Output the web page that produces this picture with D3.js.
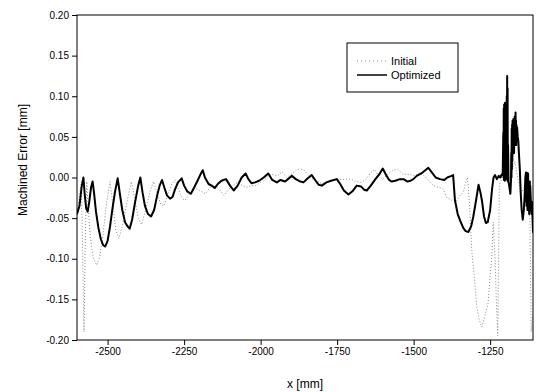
<!DOCTYPE html>
<html>
<head>
<meta charset="utf-8">
<script src="https://cdn.jsdelivr.net/npm/d3@7"></script>
<style>
  body { margin: 0; background: #fff; }
  svg { display: block; font-family: "Liberation Sans", Arial, sans-serif; }
</style>
</head>
<body>
<div id="chart"></div>
<script>
// Series: [x (mm), machined error (mm)]
const initialData = [
  [-2600, -0.05], [-2593, -0.025], [-2586, -0.005], [-2581, -0.11], [-2577, -0.19],
  [-2573, -0.075], [-2568, -0.005], [-2563, -0.04], [-2556, -0.075], [-2547, -0.098],
  [-2536, -0.108], [-2526, -0.098], [-2515, -0.07], [-2503, -0.03], [-2492, -0.005],
  [-2484, -0.03], [-2473, -0.065], [-2463, -0.075], [-2452, -0.06], [-2437, -0.03],
  [-2422, -0.005], [-2412, -0.025], [-2400, -0.05], [-2389, -0.058], [-2376, -0.04],
  [-2362, -0.018], [-2350, -0.005], [-2338, -0.02], [-2326, -0.033], [-2316, -0.035],
  [-2303, -0.02], [-2290, -0.008], [-2280, -0.003], [-2268, -0.015], [-2256, -0.026],
  [-2247, -0.028], [-2232, -0.02], [-2218, -0.012], [-2200, -0.016], [-2180, -0.02],
  [-2165, -0.012], [-2150, -0.01], [-2135, -0.015], [-2120, -0.022], [-2105, -0.015],
  [-2090, -0.01], [-2075, -0.006], [-2060, -0.01], [-2045, -0.012], [-2030, -0.01],
  [-2015, -0.01], [-2000, -0.006], [-1985, -0.002], [-1965, 0.004], [-1945, 0.002],
  [-1930, 0.007], [-1915, 0.0], [-1900, 0.004], [-1880, 0.01], [-1860, 0.01],
  [-1845, 0.003], [-1830, -0.002], [-1815, -0.004], [-1800, -0.008], [-1785, -0.006],
  [-1765, -0.004], [-1745, -0.003], [-1720, -0.002], [-1705, -0.002], [-1690, -0.005],
  [-1670, -0.006], [-1655, -0.002], [-1640, 0.006], [-1628, 0.01], [-1615, 0.002],
  [-1600, -0.002], [-1585, 0.004], [-1567, 0.009], [-1552, 0.01], [-1535, 0.004],
  [-1512, 0.004], [-1495, 0.002], [-1480, 0.006], [-1465, 0.002], [-1450, -0.004],
  [-1435, -0.01], [-1420, -0.012], [-1404, -0.014], [-1391, -0.025], [-1375, -0.028],
  [-1362, -0.03], [-1348, -0.022], [-1338, -0.018], [-1330, -0.006], [-1324, 0.0],
  [-1318, -0.03], [-1310, -0.09], [-1300, -0.13], [-1294, -0.158], [-1286, -0.175],
  [-1277, -0.184], [-1267, -0.17], [-1257, -0.155], [-1250, -0.12], [-1245, -0.1],
  [-1240, -0.055], [-1234, -0.1], [-1229, -0.16], [-1225, -0.195], [-1220, -0.01],
  [-1210, 0.002], [-1200, 0.01], [-1185, 0.0], [-1170, 0.02], [-1150, -0.02],
  [-1135, -0.01], [-1125, -0.04], [-1120, -0.05], [-1116, -0.19], [-1110, -0.17]
];

const optimizedData = [
  [-2600, -0.045], [-2592, -0.035], [-2585, -0.012], [-2579, 0.0], [-2575, -0.02],
  [-2570, -0.038], [-2565, -0.042], [-2560, -0.03], [-2554, -0.012], [-2549, -0.005],
  [-2544, -0.02], [-2538, -0.042], [-2530, -0.062], [-2522, -0.076], [-2515, -0.083],
  [-2508, -0.085], [-2500, -0.078], [-2492, -0.06], [-2484, -0.038], [-2476, -0.018],
  [-2467, -0.001], [-2460, -0.02], [-2452, -0.04], [-2443, -0.055], [-2435, -0.06],
  [-2428, -0.063], [-2420, -0.052], [-2410, -0.03], [-2400, -0.01], [-2393, 0.0],
  [-2386, -0.018], [-2378, -0.035], [-2368, -0.045], [-2358, -0.048], [-2348, -0.04],
  [-2338, -0.022], [-2330, -0.01], [-2322, -0.003], [-2315, -0.012], [-2306, -0.022],
  [-2296, -0.026], [-2288, -0.024], [-2280, -0.015], [-2270, -0.006], [-2258, -0.001],
  [-2250, -0.01], [-2240, -0.017], [-2228, -0.02], [-2218, -0.013], [-2205, -0.003],
  [-2195, 0.005], [-2189, 0.009], [-2182, 0.0], [-2170, -0.008], [-2160, -0.01],
  [-2150, -0.013], [-2140, -0.008], [-2128, -0.004], [-2113, -0.002], [-2100, -0.01],
  [-2088, -0.016], [-2075, -0.01], [-2062, 0.0], [-2049, 0.005], [-2040, -0.002],
  [-2030, -0.007], [-2018, -0.006], [-2005, -0.004], [-1990, 0.0], [-1975, 0.005],
  [-1962, -0.003], [-1947, -0.006], [-1935, -0.003], [-1920, -0.005], [-1898, 0.002],
  [-1885, -0.002], [-1870, -0.005], [-1860, -0.006], [-1846, -0.001], [-1833, 0.003],
  [-1820, -0.004], [-1810, -0.009], [-1800, -0.01], [-1785, -0.006], [-1770, -0.004],
  [-1751, -0.002], [-1740, -0.008], [-1728, -0.016], [-1713, -0.021], [-1700, -0.017],
  [-1686, -0.01], [-1672, -0.011], [-1662, -0.015], [-1653, -0.016], [-1640, -0.01],
  [-1625, -0.002], [-1612, 0.004], [-1601, 0.011], [-1590, 0.003], [-1580, -0.003],
  [-1572, -0.005], [-1560, -0.004], [-1545, -0.002], [-1533, -0.002], [-1520, -0.005],
  [-1510, -0.004], [-1501, -0.002], [-1490, 0.002], [-1475, 0.005], [-1462, 0.009],
  [-1452, 0.012], [-1440, 0.006], [-1428, 0.0], [-1414, -0.002], [-1400, -0.003],
  [-1390, 0.0], [-1376, 0.002], [-1371, 0.003], [-1365, -0.028], [-1356, -0.045],
  [-1348, -0.053], [-1338, -0.062], [-1330, -0.066], [-1321, -0.067], [-1312, -0.06],
  [-1305, -0.048], [-1296, -0.028], [-1288, -0.009], [-1282, -0.018], [-1277, -0.028],
  [-1270, -0.048], [-1264, -0.056], [-1258, -0.055], [-1250, -0.04], [-1244, -0.015],
  [-1239, 0.0], [-1234, 0.003], [-1228, -0.002], [-1222, 0.002], [-1217, 0.0],
  [-1212, 0.004], [-1209, 0.003],
  [-1207, 0.055], [-1206.3, 0.0], [-1205.6, 0.085], [-1204.9, -0.003], [-1204.2, 0.09],
  [-1203.5, 0.0], [-1202.8, 0.088], [-1202.1, -0.004], [-1201.4, 0.092], [-1200.7, 0.002],
  [-1200, 0.09], [-1199.3, 0.0], [-1198.6, 0.085], [-1197.9, -0.002], [-1197.2, 0.09],
  [-1196.5, 0.0], [-1195.8, 0.1], [-1195.1, 0.0], [-1194.4, 0.125], [-1193.7, -0.003],
  [-1193, 0.11], [-1192.3, -0.005], [-1191.5, 0.04], [-1190, -0.005], [-1187, -0.012],
  [-1184, -0.02], [-1182, -0.005], [-1181, 0.03], [-1180.3, 0.0], [-1179.6, 0.06],
  [-1178.9, 0.01], [-1178.2, 0.065], [-1177.5, 0.02], [-1176.8, 0.07], [-1176.1, 0.03],
  [-1175.4, 0.066], [-1174.7, 0.035], [-1174, 0.072], [-1173.3, 0.04], [-1172.6, 0.065],
  [-1171.9, 0.03], [-1171.2, 0.068], [-1170.5, 0.05], [-1169.8, 0.075], [-1169.1, 0.04],
  [-1168.4, 0.072], [-1167.7, 0.05], [-1167, 0.08], [-1166.3, 0.045], [-1165.6, 0.07],
  [-1164.9, 0.04], [-1164.2, 0.065], [-1163.5, 0.05], [-1162, 0.062], [-1160, 0.05],
  [-1158, 0.045], [-1156, 0.03], [-1153, 0.01], [-1150, -0.02], [-1147, -0.04],
  [-1143.5, -0.052], [-1140, -0.04], [-1137, -0.02], [-1135, 0.0], [-1133, 0.006],
  [-1132.3, -0.03], [-1131.6, 0.004], [-1130.9, -0.035], [-1130.2, 0.006], [-1129.5, -0.03],
  [-1128.8, 0.002], [-1128.1, -0.04], [-1127.4, 0.004], [-1126.7, -0.032], [-1126, 0.005],
  [-1125.3, -0.025], [-1124.6, -0.005], [-1123.9, -0.04], [-1123.2, -0.01], [-1122.5, -0.045],
  [-1121.8, -0.015], [-1121.1, -0.03], [-1120.4, -0.005], [-1119.7, -0.04], [-1119, -0.01],
  [-1117, -0.03], [-1115, -0.045], [-1113, -0.03], [-1111, -0.055], [-1110, -0.068]
];

const xTicks = [-2500, -2250, -2000, -1750, -1500, -1250];
const yTicks = [-0.20, -0.15, -0.10, -0.05, 0.00, 0.05, 0.10, 0.15, 0.20];
const seriesNames = ['Initial', 'Optimized'];

const width = 538, height = 392;
const margin = { top: 15, right: 5, bottom: 52, left: 77 };
const innerW = width - margin.left - margin.right;
const innerH = height - margin.top - margin.bottom;

const svg = d3.select('#chart')
  .append('svg')
  .attr('width', width)
  .attr('height', height);

const g = svg.append('g')
  .attr('transform', `translate(${margin.left},${margin.top})`);

const x = d3.scaleLinear().domain([-2600, -1110]).range([0, innerW]);
const y = d3.scaleLinear().domain([-0.2, 0.2]).range([innerH, 0]);

// Clip so the lines stay inside the frame
g.append('clipPath').attr('id', 'clip')
  .append('rect').attr('width', innerW).attr('height', innerH);

const line = d3.line()
  .x(d => x(d[0]))
  .y(d => y(d[1]));

g.append('path')
  .datum(initialData)
  .attr('clip-path', 'url(#clip)')
  .attr('fill', 'none')
  .attr('stroke', '#8a8a8a')
  .attr('stroke-width', 1)
  .attr('stroke-dasharray', '1,2')
  .attr('d', line);

g.append('path')
  .datum(optimizedData)
  .attr('clip-path', 'url(#clip)')
  .attr('fill', 'none')
  .attr('stroke', '#000')
  .attr('stroke-width', 2)
  .attr('stroke-linejoin', 'round')
  .attr('d', line);

// Frame
g.append('rect')
  .attr('width', innerW)
  .attr('height', innerH)
  .attr('fill', 'none')
  .attr('stroke', '#000')
  .attr('stroke-width', 1);

// Plain hyphen-minus, as on the original chart
const hyphen = f => d => f(d).replace('\u2212', '-');

const xAxis = g.append('g')
  .attr('transform', `translate(0,${innerH})`)
  .call(d3.axisBottom(x).tickValues(xTicks).tickSize(5).tickPadding(3).tickFormat(hyphen(d3.format('d'))));

const yAxis = g.append('g')
  .call(d3.axisLeft(y).tickValues(yTicks).tickSize(5).tickPadding(3).tickFormat(hyphen(d3.format('.2f'))));

[xAxis, yAxis].forEach(ax => {
  ax.select('.domain').remove();
  ax.selectAll('line').attr('stroke', '#000');
  ax.selectAll('text')
    .attr('fill', '#000')
    .style('font-size', '10px')
    .style('font-family', '"Liberation Sans", Arial, sans-serif');
});

// Axis titles
svg.append('text')
  .attr('x', margin.left + innerW / 2)
  .attr('y', 388)
  .attr('text-anchor', 'middle')
  .style('font-size', '12px')
  .text('x [mm]');

svg.append('text')
  .attr('transform', 'translate(27,160) rotate(-90)')
  .attr('text-anchor', 'middle')
  .style('font-size', '12px')
  .text('Machined Error [mm]');

// Legend
const legend = svg.append('g').attr('transform', 'translate(347,43)');
legend.append('rect')
  .attr('width', 111)
  .attr('height', 49)
  .attr('fill', '#fff')
  .attr('stroke', '#000')
  .attr('stroke-width', 1);

seriesNames.forEach((name, i) => {
  const ly = 18 + i * 14;
  legend.append('line')
    .attr('x1', 10).attr('x2', 40)
    .attr('y1', ly).attr('y2', ly)
    .attr('stroke', i === 0 ? '#8a8a8a' : '#000')
    .attr('stroke-width', i === 0 ? 1 : 1.5)
    .attr('stroke-dasharray', i === 0 ? '1,3' : null);
  legend.append('text')
    .attr('x', 44)
    .attr('y', ly + 4)
    .style('font-size', '11px')
    .text(name);
});
</script>
</body>
</html>
